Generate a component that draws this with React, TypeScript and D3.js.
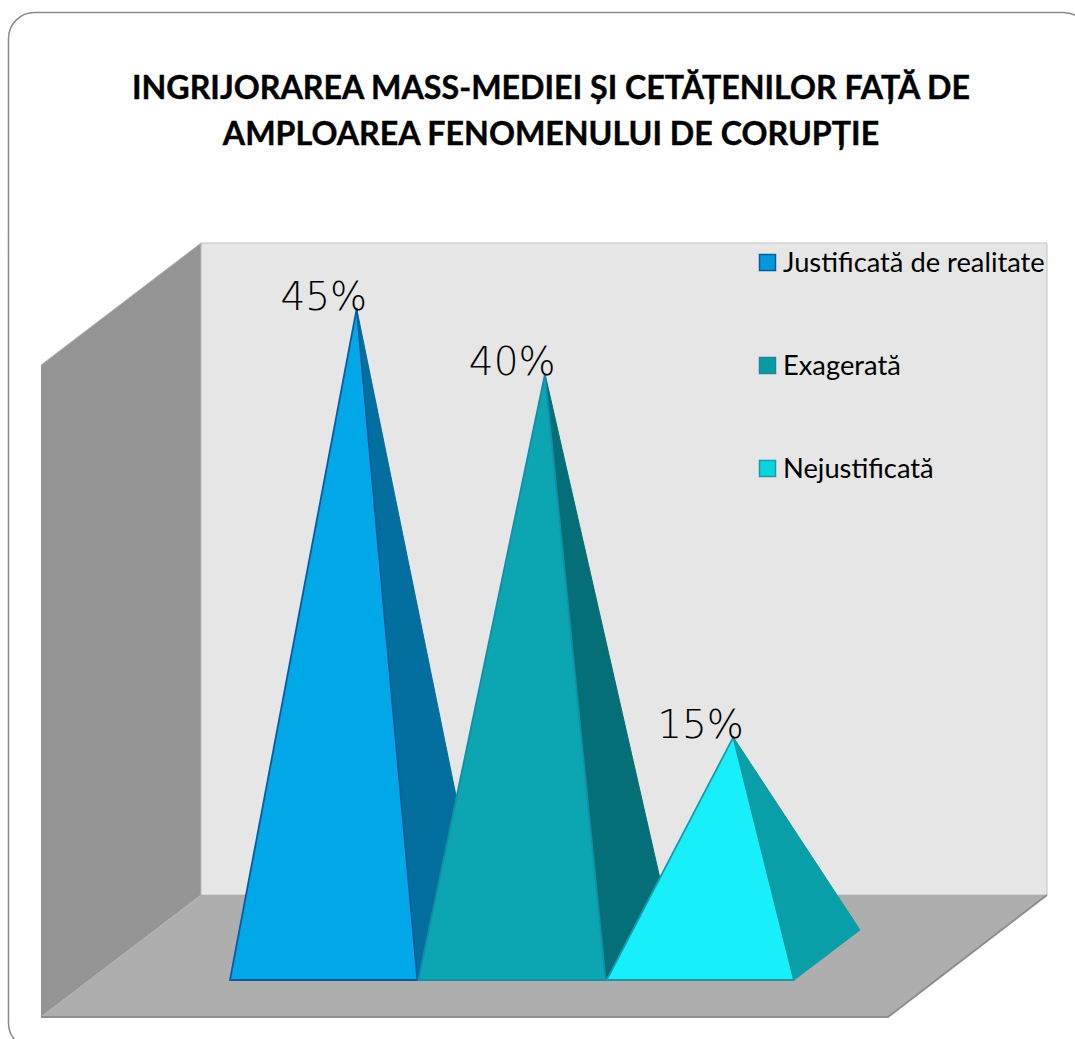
import React from "react";
import * as d3 from "d3";

const categories = ["Justificată de realitate", "Exagerată", "Nejustificată"];
const heights = [44.5, 40, 15];
const labels = ["45%", "40%", "15%"];
const frontColors = ["#00a8e8", "#0ba6b2", "#17f0fb"];
const sideColors = ["#026f9f", "#056f77", "#089fa8"];
const edgeColors = ["#0c5aa0", "#0f8fa8", "#1a9aa8"];
const legendColors = ["#0099dd", "#0a9a9f", "#0ad4dc"];
const legendEdges = ["#0c5a9e", "#1c86a0", "#1a9aa8"];
const titleLines = [
  "INGRIJORAREA MASS-MEDIEI ȘI CETĂȚENILOR FAȚĂ DE",
  "AMPLOAREA FENOMENULUI DE CORUPȚIE",
];

const W = 1075;
const H = 1039;
const wallLeft = 201;
const wallRight = 1047;
const wallTop = 243;
const wallBottom = 895;
const depthX = -160;
const depthY = 122;
const baseDx = 66;
const baseDy = -50;
const baseY = 980;

const x = d3.scaleBand<string>().domain(categories).range([230, 794]).paddingInner(0.005);
const y = d3.scaleLinear().domain([0, 40]).range([955, 374]);
const poly = d3.line();

export default function App() {
  const wall: [number, number][] = [[wallLeft, wallTop], [wallRight, wallTop], [wallRight, wallBottom], [wallLeft, wallBottom]];
  const left: [number, number][] = [[wallLeft + depthX, wallTop + depthY], [wallLeft, wallTop], [wallLeft, wallBottom], [wallLeft + depthX, wallBottom + depthY]];
  const floor: [number, number][] = [[wallLeft, wallBottom], [wallRight, wallBottom], [wallRight + depthX + 1, wallBottom + depthY], [wallLeft + depthX, wallBottom + depthY]];
  return (
    <svg width={W} height={H} viewBox={`0 0 ${W} ${H}`} style={{ position: "fixed", left: 0, top: 0, display: "block", background: "#fff" }}>
      <rect x={8.5} y={12.5} width={1081} height={1036.5} rx={26} ry={26} fill="#fff" stroke="#8a8a8a" strokeWidth={1.5} />
      {titleLines.map((t, i) => (
        <text key={t} x={551} y={99 + i * 46} textAnchor="middle" fontFamily="Lato, Carlito, sans-serif" fontWeight={700} fontSize={32.2} fill="#000" stroke="#000" strokeWidth={0.4}>{t}</text>
      ))}
      <path d={poly(wall)!} fill="#e6e6e6" stroke="#c4c4c4" strokeWidth={1} />
      <path d={poly(left)!} fill="#949494" stroke="#b8b8b8" strokeWidth={1} />
      <path d={poly(floor)!} fill="#aeaeae" />
      <path d={poly([[wallLeft + depthX, wallBottom + depthY], [wallRight + depthX + 1, wallBottom + depthY], [wallRight, wallBottom]])!} fill="none" stroke="#8e8e8e" strokeWidth={2} />
      {categories.map((c, i) => {
        const x0 = x(c)!;
        const x1 = x0 + x.bandwidth();
        const ax = (x0 + x1) / 2 + baseDx / 2;
        const ay = y(heights[i]);
        return (
          <g key={c}>
            <path d={poly([[ax, ay], [x1, baseY], [x1 + baseDx, baseY + baseDy]])! + "Z"} fill={sideColors[i]} stroke={sideColors[i]} strokeWidth={1} />
            <path d={poly([[ax, ay], [x0, baseY], [x1, baseY]])! + "Z"} fill={frontColors[i]} stroke={edgeColors[i]} strokeWidth={1.8} strokeLinejoin="round" />
            <text x={ax + 10.5} y={ay + 1} textAnchor="end" fontFamily="'DejaVu Sans', sans-serif" fontWeight={200} fontSize={39} fill="#000">{labels[i]}</text>
          </g>
        );
      })}
      {categories.map((c, i) => (
        <g key={c + "-legend"}>
          <rect x={759.5} y={254.5 + i * 103} width={16} height={16} fill={legendColors[i]} stroke={legendEdges[i]} strokeWidth={1.5} />
          <text x={783} y={272 + i * 103} fontFamily="Lato, Carlito, sans-serif" fontSize={27.3} fill="#000">{c}</text>
        </g>
      ))}
    </svg>
  );
}
